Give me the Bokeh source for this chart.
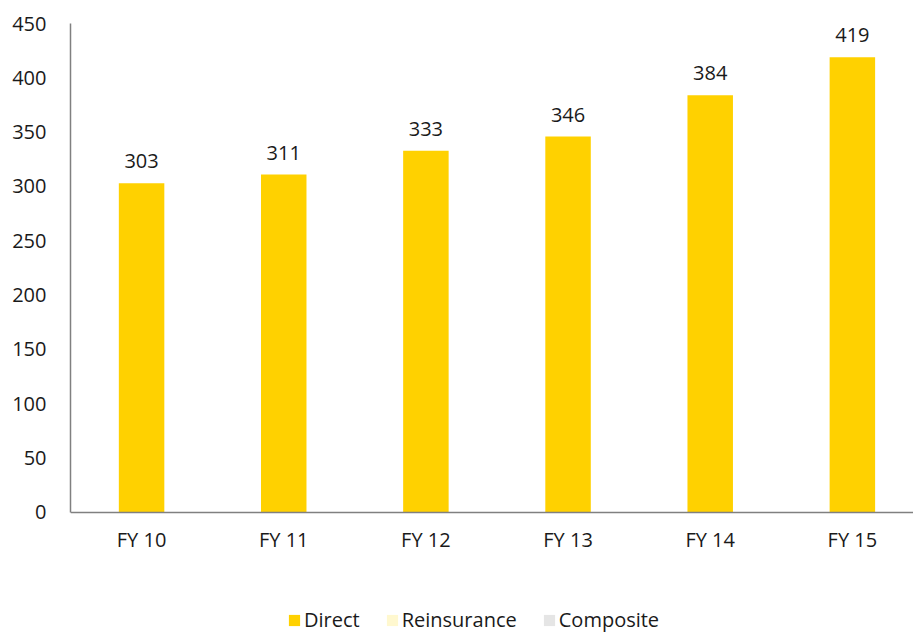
from bokeh.plotting import figure
from bokeh.models import Range1d, ColumnDataSource, LabelSet, Legend, LegendItem, FixedTicker
from bokeh.core.properties import value
from bokeh.embed import file_html
from bokeh.resources import INLINE

years = ["FY 10", "FY 11", "FY 12", "FY 13", "FY 14", "FY 15"]
direct = [303, 311, 333, 346, 384, 419]
series_names = ["Direct", "Reinsurance", "Composite"]
series_colors = ["#FFD100", "#FFF8CF", "#E5E5E5"]
y_ticks = [0, 50, 100, 150, 200, 250, 300, 350, 400, 450]
y_max = 450
y_min_view = -111.35  # empty space below the zero line that holds the category labels and legend
x_view_end = 5.93      # the last category slot is partly cut off at the right edge, as in the reference

FONT = "Open Sans"

# category slots: each category sits in the middle of its unit-wide slot
xpos = [i + 0.5 for i in range(len(years))]
src = ColumnDataSource(dict(x=xpos, y=direct, lab=[str(v) for v in direct]))

p = figure(x_range=Range1d(0, x_view_end), y_range=Range1d(y_min_view, y_max),
           width=913, height=633, output_backend="svg", toolbar_location=None,
           min_border_left=70, min_border_right=0, min_border_top=23, min_border_bottom=0)
p.outline_line_color = None
p.grid.grid_line_color = None

r_direct = p.vbar(x="x", top="y", width=0.32, source=src, fill_color=series_colors[0], line_color=None)
r_re = p.vbar(x=[xpos[0]], top=[0], width=0.32, fill_color=series_colors[1], line_color=None)
r_co = p.vbar(x=[xpos[0]], top=[0], width=0.32, fill_color=series_colors[2], line_color=None)

labels = LabelSet(x="x", y="y", text="lab", source=src, text_align="center", text_baseline="bottom",
                  y_offset=15, text_font=value(FONT), text_font_size="20px", text_color="#1a1a1a")
p.add_layout(labels)

p.yaxis.ticker = y_ticks
p.yaxis.bounds = (0, y_max)
p.xaxis.ticker = FixedTicker(ticks=xpos, minor_ticks=[])
p.xaxis.major_label_overrides = {x: lab for x, lab in zip(xpos, years)}
p.xaxis.fixed_location = 0
for ax in (p.xaxis, p.yaxis):
    ax.major_tick_line_color = None
    ax.minor_tick_line_color = None
    ax.axis_line_color = "#808080"
    ax.axis_line_width = 1.5
    ax.major_label_text_font = FONT
    ax.major_label_text_font_size = "20px"
    ax.major_label_text_color = "#1a1a1a"
p.yaxis.major_label_standoff = 18
p.xaxis.major_label_standoff = 8

legend = Legend(items=[LegendItem(label=series_names[0], renderers=[r_direct]),
                       LegendItem(label=series_names[1], renderers=[r_re]),
                       LegendItem(label=series_names[2], renderers=[r_co])],
                orientation="horizontal", location=(217, 0),
                label_text_font=FONT, label_text_font_size="20px", label_text_color="#1a1a1a",
                glyph_width=14, glyph_height=14, label_standoff=3, spacing=25,
                padding=0, margin=0,
                background_fill_alpha=0, border_line_color=None)
p.add_layout(legend, "center")

open("out.html", "w").write(file_html(p, INLINE))
